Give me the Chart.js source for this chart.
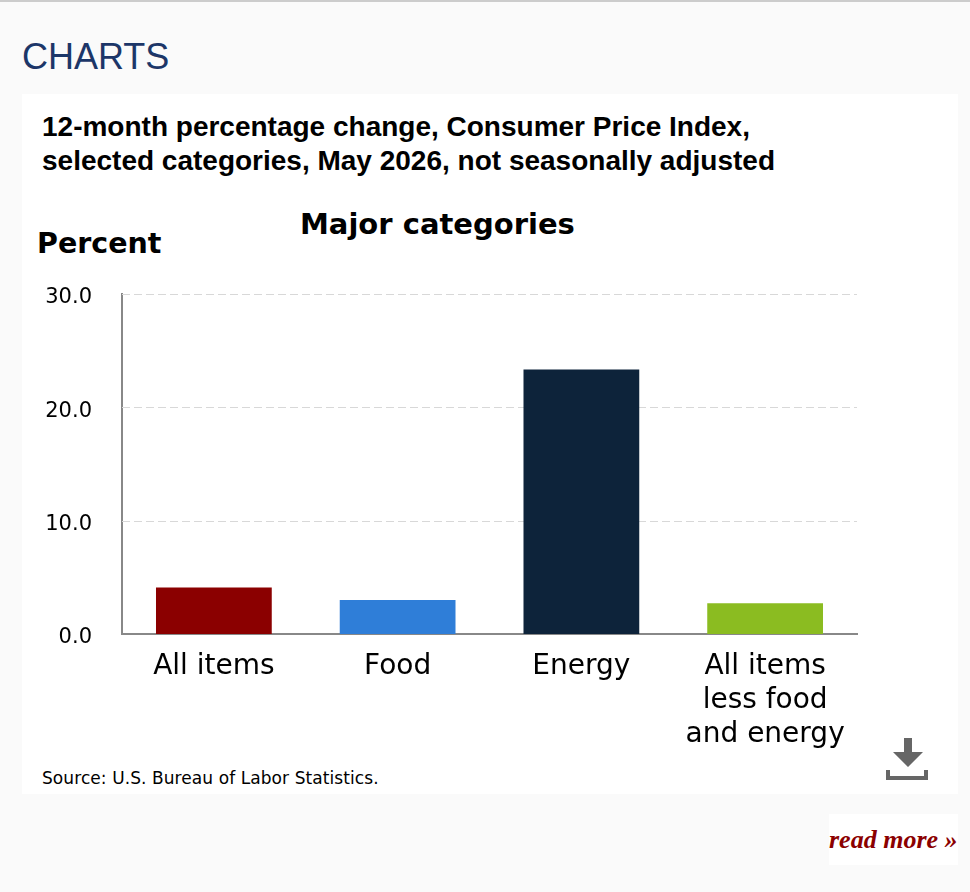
<!DOCTYPE html>
<html>
<head>
<meta charset="utf-8">
<title>CHARTS</title>
<script src="https://cdn.jsdelivr.net/npm/chart.js@4/dist/chart.umd.min.js"></script>
<style>
  html, body { margin: 0; padding: 0; background: #fafafa; }
  body { width: 970px; height: 892px; position: relative; overflow: hidden; border-top: 2px solid #ccc; box-sizing: border-box; }
  .abs { position: absolute; white-space: nowrap; }
  #heading { left: 22px; top: 33px; font: 36px/44px "Liberation Sans", sans-serif; color: #1c3668; }
  #panel { position: absolute; left: 22px; top: 92px; width: 936px; height: 700px; background: #fff; }
  #title { left: 42px; top: 108px; font: bold 28px/34px "Liberation Sans", sans-serif; color: #000; }
  #subtitle { left: 300px; top: 204px; font: bold 29px/36px "DejaVu Sans", sans-serif; color: #000; }
  #percent { left: 37px; top: 224px; font: bold 28.5px/36px "DejaVu Sans", sans-serif; color: #000; }
  #source { left: 42px; top: 765px; font: 17px/22px "DejaVu Sans", sans-serif; letter-spacing: 0.08px; color: #000; }
  #chartBox { position: absolute; left: 22px; top: 249px; width: 936px; height: 511px; }
  #download { position: absolute; left: 886px; top: 736px; }
  #more { position: absolute; left: 829px; top: 812px; width: 129px; height: 51px; background: #fff; font: italic bold 26px/51px "Liberation Serif", serif; color: #8b0000; white-space: nowrap; }
</style>
</head>
<body>
<div id="heading" class="abs">CHARTS</div>
<div id="panel"></div>
<div id="title" class="abs">12-month percentage change, Consumer Price Index,<br>selected categories, May 2026, not seasonally adjusted</div>
<div id="subtitle" class="abs">Major categories</div>
<div id="percent" class="abs">Percent</div>
<div id="chartBox"><canvas id="barChart" width="936" height="511"></canvas></div>
<div id="source" class="abs">Source: U.S. Bureau of Labor Statistics.</div>
<svg id="download" width="42" height="42" viewBox="0 0 42 42">
  <path d="M18 0h8v14h11L22 29 7 14h11z" fill="#666"/>
  <path d="M0 32h4v6h34v-6h4v10H0z" fill="#666"/>
</svg>
<div id="more">read more »</div>

<script>
var categories = ['All items', 'Food', 'Energy', ['All items', 'less food', 'and energy']];
var percentValues = [4.1, 3.0, 23.3, 2.7];
var barColors = ['#8b0000', '#2f7ed8', '#0d233a', '#8bbc21'];
var yTicks = [0, 10, 20, 30];

var ctx = document.getElementById('barChart');

var data = {
  labels: categories,
  datasets: [{
    label: 'Percent',
    data: percentValues,
    backgroundColor: barColors,
    barPercentage: 0.63,
    categoryPercentage: 1
  }]
};

// grille en tirets, dessinee sous les barres
var dashGrid = {
  id: 'dashGrid',
  beforeDatasetsDraw: function (chart) {
    var c = chart.ctx, area = chart.chartArea, y = chart.scales.y;
    c.save();
    c.strokeStyle = '#d8d8d8';
    c.lineWidth = 1;
    c.setLineDash([8, 4]);
    yTicks.slice(1).forEach(function (v) {
      var py = Math.round(y.getPixelForValue(v)) + 0.5;
      c.beginPath();
      c.moveTo(area.left, py);
      c.lineTo(area.right, py);
      c.stroke();
    });
    c.restore();
  }
};

var options = {
  responsive: false,
  animation: false,
  layout: { padding: { top: 0, right: 101, bottom: 0, left: 0 } },
  plugins: { legend: { display: false }, tooltip: { enabled: false } },
  scales: {
    x: {
      grid: { display: false, drawTicks: false },
      border: { color: '#888', width: 2 },
      ticks: {
        color: '#000',
        maxRotation: 0,
        autoSkip: false,
        padding: 16,
        font: { family: 'DejaVu Sans', size: 28, lineHeight: 1.214 }
      },
      afterFit: function (scale) { scale.height = 128; }
    },
    y: {
      min: 0,
      max: 30,
      afterBuildTicks: function (scale) {
        scale.ticks = yTicks.map(function (v) { return { value: v }; });
      },
      grid: { display: false, drawTicks: false },
      border: { color: '#888', width: 2 },
      ticks: {
        color: '#000',
        padding: 30,
        labelOffset: 4,
        font: { family: 'DejaVu Sans', size: 21 },
        callback: function (v) { return v.toFixed(1); }
      },
      afterFit: function (scale) { scale.width = 100; }
    }
  }
};

new Chart(ctx, { type: 'bar', data: data, options: options, plugins: [dashGrid] });
</script>
</body>
</html>
